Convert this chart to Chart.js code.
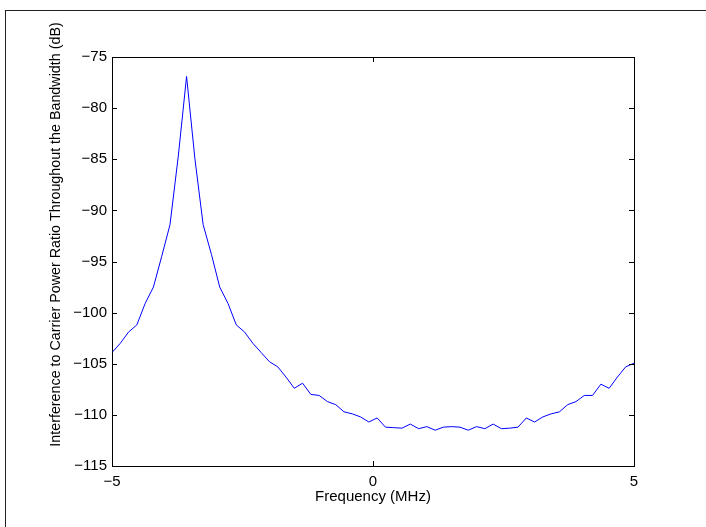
<!DOCTYPE html>
<html>
<head>
<meta charset="utf-8">
<script src="https://cdn.jsdelivr.net/npm/chart.js@4/dist/chart.umd.min.js"></script>
<style>
  html, body { margin: 0; padding: 0; background: #fff; }
  #wrap { position: relative; width: 706px; height: 527px; overflow: hidden; }
  #frame { position: absolute; left: 5px; top: 10px; width: 800px; height: 600px;
           border-left: 1px solid #222; border-top: 1px solid #222; }
  canvas { position: absolute; left: 0; top: 0; }
</style>
</head>
<body>
<div id="wrap">
  <div id="frame"></div>
  <canvas id="chart" width="706" height="527"></canvas>
</div>
<script>
// frequency points (MHz), 64 samples across the band
const freqMHz = [
  -5.0000, -4.8413, -4.6825, -4.5238, -4.3651, -4.2063, -4.0476, -3.8889,
  -3.7302, -3.5714, -3.4127, -3.2540, -3.0952, -2.9365, -2.7778, -2.6190,
  -2.4603, -2.3016, -2.1429, -1.9841, -1.8254, -1.6667, -1.5079, -1.3492,
  -1.1905, -1.0317, -0.8730, -0.7143, -0.5556, -0.3968, -0.2381, -0.0794,
   0.0794,  0.2381,  0.3968,  0.5556,  0.7143,  0.8730,  1.0317,  1.1905,
   1.3492,  1.5079,  1.6667,  1.8254,  1.9841,  2.1429,  2.3016,  2.4603,
   2.6190,  2.7778,  2.9365,  3.0952,  3.2540,  3.4127,  3.5714,  3.7302,
   3.8889,  4.0476,  4.2063,  4.3651,  4.5238,  4.6825,  4.8413,  5.0000
];

// interference to carrier power ratio (dB)
const icrDb = [
  -103.9, -103.0, -101.9, -101.2, -99.1, -97.5, -94.5, -91.4,
  -84.7, -76.9, -84.9, -91.4, -94.3, -97.5, -99.1, -101.2,
  -101.9, -103.0, -103.9, -104.8, -105.3, -106.3, -107.4, -106.9,
  -108.0, -108.1, -108.7, -109.0, -109.7, -109.9, -110.2, -110.7,
  -110.3, -111.2, -111.25, -111.3, -110.9, -111.35, -111.15, -111.5,
  -111.2, -111.15, -111.2, -111.5, -111.15, -111.35, -110.9, -111.35,
  -111.3, -111.2, -110.3, -110.7, -110.2, -109.9, -109.7, -109.0,
  -108.7, -108.1, -108.1, -107.0, -107.4, -106.3, -105.3, -104.95
];

const xTicks = [-5, 0, 5];
const yTicks = [-115, -110, -105, -100, -95, -90, -85, -80, -75];
const yTitle = "Interference to Carrier Power Ratio Throughout the Bandwidth (dB)";

const FONT = "'Liberation Sans', Arial, Helvetica, sans-serif";
const minus = (v) => String(v).replace("-", "\u2212");

// MATLAB-like box with inward ticks on all four sides, plus the y label
// (the label sits a bit above the axes centre in the original)
const boxTicks = {
  id: "boxTicks",
  afterDraw(chart) {
    const { ctx, chartArea: a, scales } = chart;
    const len = 5;
    ctx.save();
    ctx.strokeStyle = "#000";
    ctx.lineWidth = 1;
    ctx.beginPath();
    xTicks.forEach(v => {
      const x = Math.round(scales.x.getPixelForValue(v)) + 0.5;
      ctx.moveTo(x, a.bottom); ctx.lineTo(x, a.bottom - len);
      ctx.moveTo(x, a.top); ctx.lineTo(x, a.top + len);
    });
    yTicks.forEach(v => {
      const y = Math.round(scales.y.getPixelForValue(v)) + 0.5;
      ctx.moveTo(a.left, y); ctx.lineTo(a.left + len, y);
      ctx.moveTo(a.right, y); ctx.lineTo(a.right - len, y);
    });
    ctx.stroke();
    ctx.strokeRect(Math.round(a.left) + 0.5, Math.round(a.top) + 0.5,
                   Math.round(a.right - a.left), Math.round(a.bottom - a.top));

    ctx.translate(56, (a.top + a.bottom) / 2 - 27);
    ctx.rotate(-Math.PI / 2);
    ctx.fillStyle = "#000";
    ctx.font = "14.3px " + FONT;
    ctx.textAlign = "center";
    ctx.textBaseline = "middle";
    ctx.fillText(yTitle, 0, 0);
    ctx.restore();
  }
};

new Chart(document.getElementById("chart").getContext("2d"), {
  type: "line",
  data: {
    datasets: [{
      data: freqMHz.map((f, i) => ({ x: f, y: icrDb[i] })),
      borderColor: "#0000ff",
      borderWidth: 1,
      pointRadius: 0,
      tension: 0,
      fill: false
    }]
  },
  options: {
    responsive: false,
    animation: false,
    layout: { padding: { left: 0, top: 57, right: 72, bottom: 0 } },
    plugins: { legend: { display: false }, tooltip: { enabled: false } },
    scales: {
      x: {
        type: "linear",
        min: -5, max: 5,
        afterFit: (s) => { s.height = 61; },
        afterBuildTicks: (s) => { s.ticks = xTicks.map(v => ({ value: v })); },
        grid: { display: false, drawTicks: false },
        border: { display: false },
        ticks: { padding: 7, color: "#000", font: { family: FONT, size: 15 }, callback: minus, maxRotation: 0 },
        title: { display: true, text: "Frequency (MHz)", color: "#000",
                 font: { family: FONT, size: 15 }, padding: { top: 0, bottom: 21 } }
      },
      y: {
        type: "linear",
        min: -115, max: -75,
        afterFit: (s) => { s.width = 112; },
        afterBuildTicks: (s) => { s.ticks = yTicks.map(v => ({ value: v })); },
        grid: { display: false, drawTicks: false },
        border: { display: false },
        ticks: { padding: 5, color: "#000", font: { family: FONT, size: 15 }, callback: minus }
      }
    }
  },
  plugins: [boxTicks]
});
</script>
</body>
</html>
